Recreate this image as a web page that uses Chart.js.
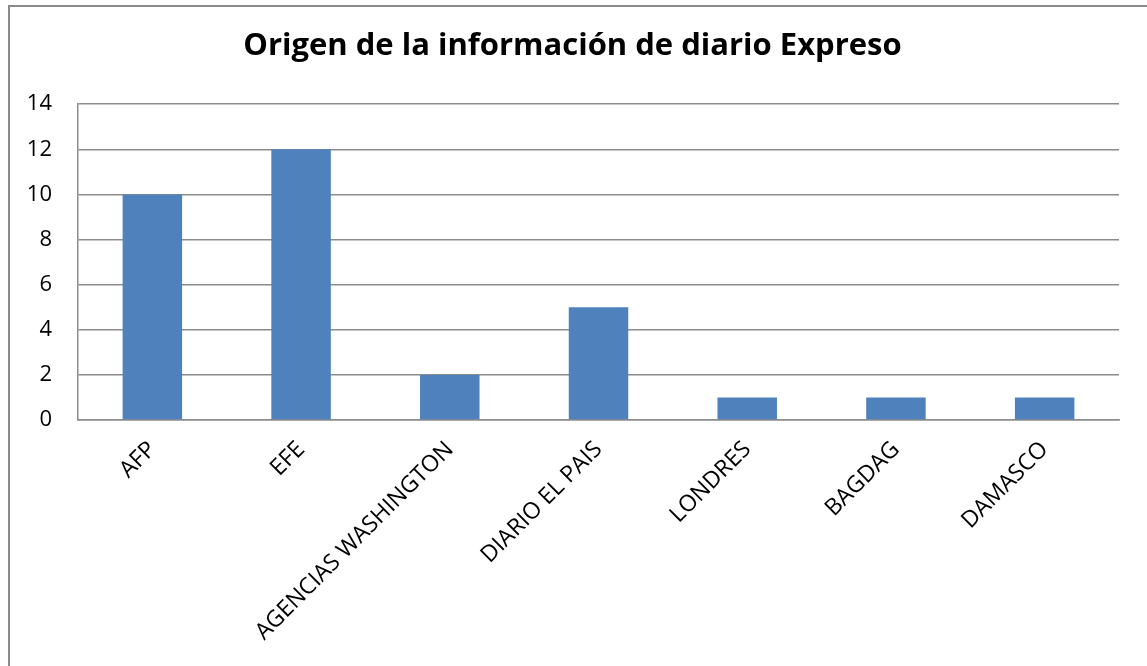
<!DOCTYPE html>
<html>
<head>
<meta charset="utf-8">
<script src="https://cdn.jsdelivr.net/npm/chart.js@4/dist/chart.umd.min.js"></script>
<style>
  html, body { margin: 0; padding: 0; background: #fff; overflow: hidden; }
  #wrap { position: relative; width: 1147px; height: 666px; }
  #frame { position: absolute; left: 8px; top: 5px; width: 1300px; height: 800px; border: 2px solid #8a8a8a; box-sizing: border-box; }
  canvas { position: absolute; left: 0; top: 0; }
</style>
</head>
<body>
<div id="wrap">
  <div id="frame"></div>
  <canvas id="c" width="1147" height="666"></canvas>
</div>
<script>
const chartTitle = 'Origen de la información de diario Expreso';
const categories = ['AFP', 'EFE', 'AGENCIAS WASHINGTON', 'DIARIO EL PAIS', 'LONDRES', 'BAGDAG', 'DAMASCO'];
const values = [10, 12, 2, 5, 1, 1, 1];
const yTicks = [0, 2, 4, 6, 8, 10, 12, 14];

const gridColor = '#8c8c8c';

new Chart(document.getElementById('c'), {
  type: 'bar',
  data: {
    labels: categories,
    datasets: [{
      data: values,
      backgroundColor: '#4F81BD',
      borderWidth: 0,
      barPercentage: 0.4,
      categoryPercentage: 1.0
    }]
  },
  options: {
    responsive: false,
    animation: false,
    devicePixelRatio: 1,
    layout: { padding: { left: 26, right: 28, top: 0, bottom: 0 } },
    plugins: {
      legend: { display: false },
      tooltip: { enabled: false },
      title: {
        display: true,
        text: chartTitle,
        color: '#000',
        font: { family: 'Open Sans', size: 31, weight: 'bold', lineHeight: 1.2 },
        padding: { top: 28, bottom: 39 }
      }
    },
    scales: {
      x: {
        grid: { display: false, drawTicks: false },
        border: { display: true, color: gridColor, width: 1.5 },
        ticks: {
          color: '#000',
          font: { family: 'Open Sans', size: 23 },
          minRotation: 45,
          maxRotation: 45,
          autoSkip: false,
          padding: 16
        },
        afterFit: (s) => { s.height = 246; }
      },
      y: {
        min: 0,
        max: 14,
        afterBuildTicks: (s) => { s.ticks = yTicks.map(v => ({ value: v })); },
        grid: { color: gridColor, lineWidth: 1.5, drawTicks: false },
        border: { display: true, color: gridColor, width: 1.5 },
        ticks: {
          color: '#000',
          font: { family: 'Open Sans', size: 22 },
          padding: 26
        },
        afterFit: (s) => { s.width = 52; }
      }
    }
  }
});
</script>
</body>
</html>
